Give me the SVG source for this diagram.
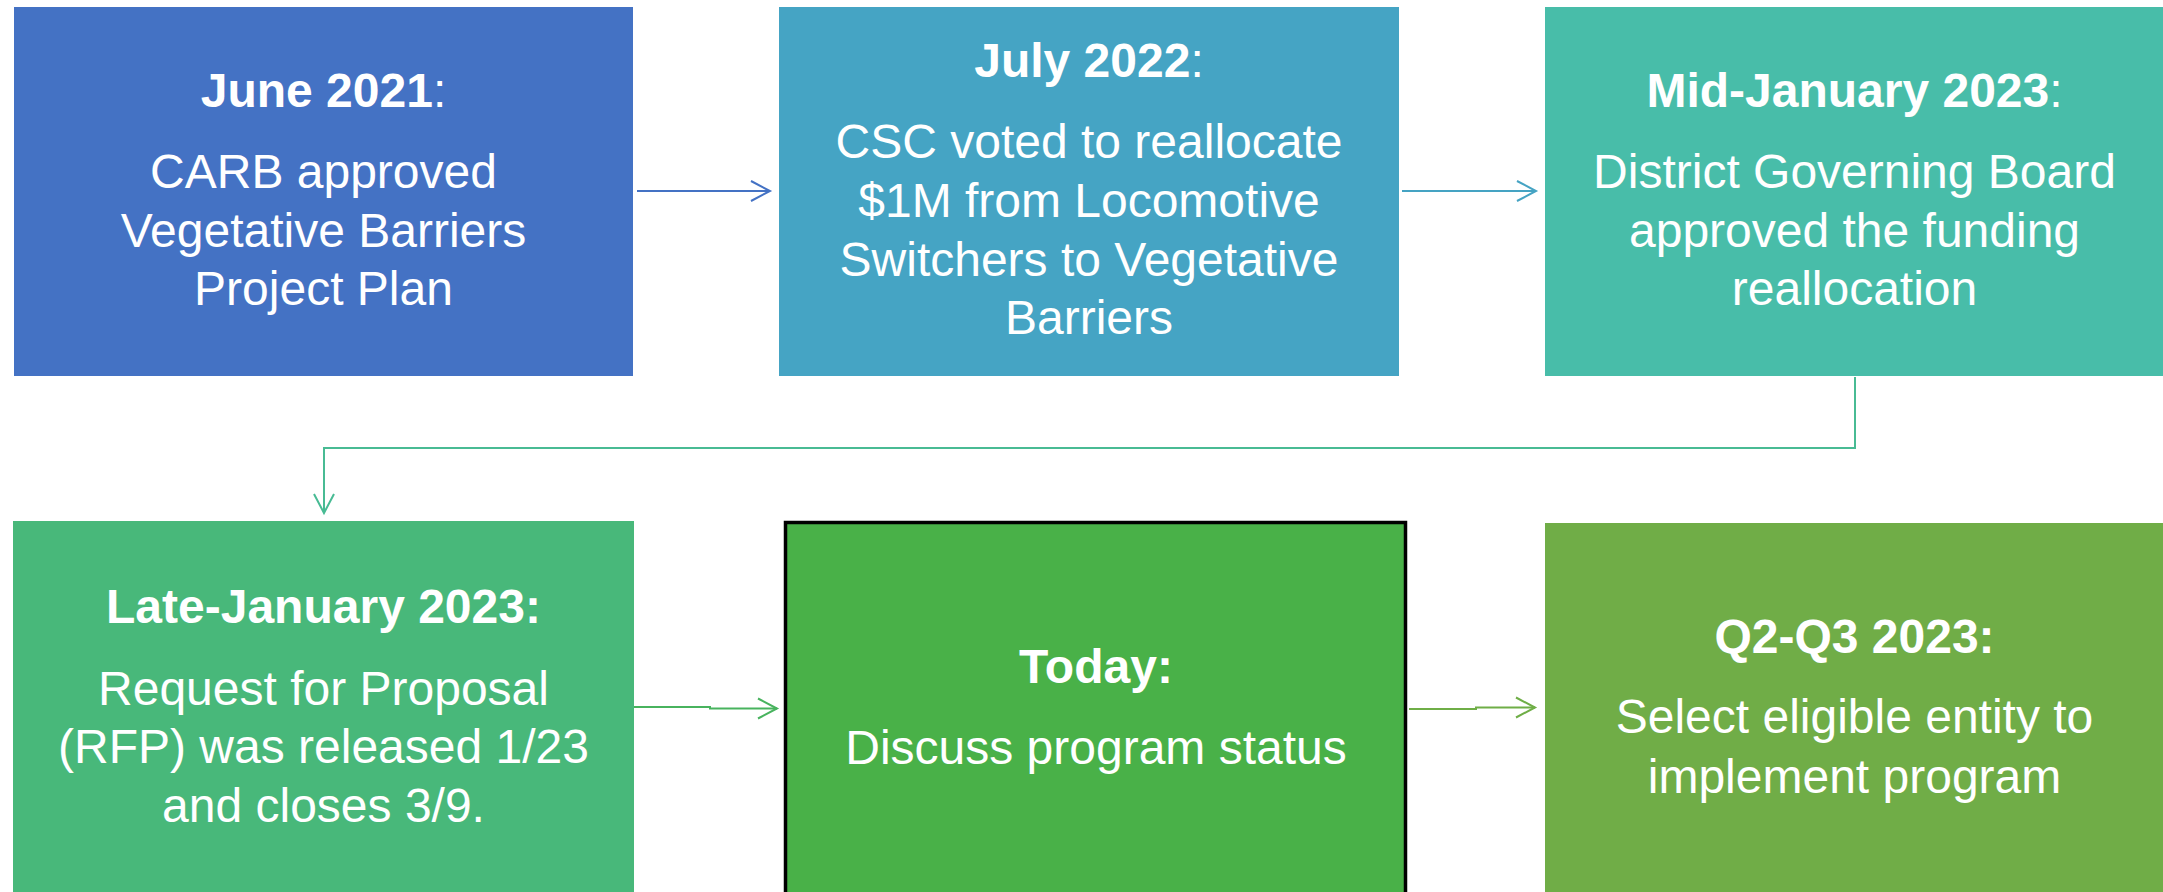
<svg xmlns="http://www.w3.org/2000/svg" width="2163" height="892" viewBox="0 0 2163 892">
<style>
  text { font-family: "Liberation Sans", Arial, sans-serif; font-size: 48px; fill: #ffffff; text-anchor: middle; }
  .t { font-weight: bold; }
  .r { font-weight: normal; }
  .conn { fill: none; stroke-width: 2; }
</style>
<defs>
  <marker id="m1" viewBox="-21 -12 24 24" refX="0" refY="0" markerWidth="24" markerHeight="24" markerUnits="userSpaceOnUse" orient="auto"><path d="M-19,-10 L0,0 L-19,10" fill="none" stroke="#4472C4" stroke-width="2"/></marker>
  <marker id="m2" viewBox="-21 -12 24 24" refX="0" refY="0" markerWidth="24" markerHeight="24" markerUnits="userSpaceOnUse" orient="auto"><path d="M-19,-10 L0,0 L-19,10" fill="none" stroke="#45A3C3" stroke-width="2"/></marker>
  <marker id="m3" viewBox="-21 -12 24 24" refX="0" refY="0" markerWidth="24" markerHeight="24" markerUnits="userSpaceOnUse" orient="auto"><path d="M-19,-10 L0,0 L-19,10" fill="none" stroke="#48BB94" stroke-width="2"/></marker>
  <marker id="m4" viewBox="-21 -12 24 24" refX="0" refY="0" markerWidth="24" markerHeight="24" markerUnits="userSpaceOnUse" orient="auto"><path d="M-19,-10 L0,0 L-19,10" fill="none" stroke="#48B35E" stroke-width="2"/></marker>
  <marker id="m5" viewBox="-21 -12 24 24" refX="0" refY="0" markerWidth="24" markerHeight="24" markerUnits="userSpaceOnUse" orient="auto"><path d="M-19,-10 L0,0 L-19,10" fill="none" stroke="#6FAE47" stroke-width="2"/></marker>
</defs>
<rect x="0" y="0" width="2163" height="892" fill="#ffffff"/>

<g id="connectors">
  <path class="conn" d="M637,191 H770" stroke="#4472C4" marker-end="url(#m1)"/>
  <path class="conn" d="M1402,191 H1536" stroke="#45A3C3" marker-end="url(#m2)"/>
  <path class="conn" d="M1855,377 V448 H324 V513" stroke="#48BB94" marker-end="url(#m3)"/>
  <path class="conn" d="M634,707 H710 V708.5 H777" stroke="#48B35E" marker-end="url(#m4)"/>
  <path class="conn" d="M1409,709 H1476 V707.5 H1535" stroke="#6FAE47" marker-end="url(#m5)"/>
</g>

<g id="node1">
  <rect x="14" y="7" width="619" height="369" fill="#4472C4"/>
  <text x="323.5" y="107" class="t">June 2021<tspan class="r">:</tspan></text>
  <text x="323.5" y="188">CARB approved</text>
  <text x="323.5" y="247">Vegetative Barriers</text>
  <text x="323.5" y="305">Project Plan</text>
</g>

<g id="node2">
  <rect x="779" y="7" width="620" height="369" fill="#45A4C4"/>
  <text x="1089" y="77" class="t">July 2022<tspan class="r">:</tspan></text>
  <text x="1089" y="158">CSC voted to reallocate</text>
  <text x="1089" y="217">$1M from Locomotive</text>
  <text x="1089" y="276">Switchers to Vegetative</text>
  <text x="1089" y="334">Barriers</text>
</g>

<g id="node3">
  <rect x="1545" y="7" width="620" height="369" fill="#48BDA9"/>
  <text x="1854.5" y="107" class="t">Mid-January 2023<tspan class="r">:</tspan></text>
  <text x="1854.5" y="188">District Governing Board</text>
  <text x="1854.5" y="247">approved the funding</text>
  <text x="1854.5" y="305">reallocation</text>
</g>

<g id="node4">
  <rect x="13" y="521" width="621" height="375" fill="#48B87A"/>
  <text x="323.5" y="623" class="t">Late-January 2023:</text>
  <text x="323.5" y="705">Request for Proposal</text>
  <text x="323.5" y="763">(RFP) was released 1/23</text>
  <text x="323.5" y="822">and closes 3/9.</text>
</g>

<g id="node5">
  <rect x="785.5" y="522.5" width="620" height="375" fill="#49B148" stroke="#000000" stroke-width="3.5"/>
  <text x="1096" y="683" class="t">Today:</text>
  <text x="1096" y="764">Discuss program status</text>
</g>

<g id="node6">
  <rect x="1545" y="523" width="620" height="373" fill="#70AD47"/>
  <text x="1854.5" y="653" class="t">Q2-Q3 2023:</text>
  <text x="1854.5" y="733">Select eligible entity to</text>
  <text x="1854.5" y="793">implement program</text>
</g>
</svg>
